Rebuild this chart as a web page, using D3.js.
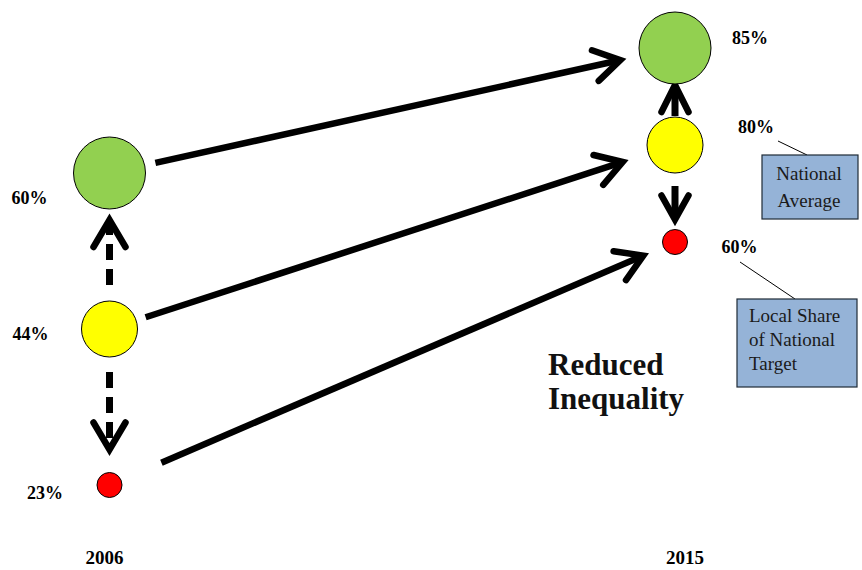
<!DOCTYPE html>
<html>
<head>
<meta charset="utf-8">
<script src="https://cdn.jsdelivr.net/npm/d3@7"></script>
<style>
  html, body { margin: 0; padding: 0; background: #fff; }
  svg { display: block; }
  text { font-family: "Liberation Serif", "DejaVu Serif", serif; }
</style>
</head>
<body>
<svg id="chart" width="862" height="570"></svg>
<script>
// ---- data ----
const years = ["2006", "2015"];
const groups = ["Highest", "Average", "Lowest"];
const values2006 = [60, 44, 23];
const values2015 = [85, 80, 60];
const valueLabels2006 = ["60%", "44%", "23%"];
const valueLabels2015 = ["85%", "80%", "60%"];
const callouts = [
  { lines: ["National", "Average"], target: 1 },
  { lines: ["Local Share", "of National", "Target"], target: 2 }
];
const headline = ["Reduced", "Inequality"];

// ---- layout / style ----
const svg = d3.select("#chart");
const x = d3.scalePoint().domain(years).range([109.5, 675]);
const yCol = {
  "2006": d3.scalePoint().domain(groups).range([173, 485]),
  "2015": d3.scalePoint().domain(groups).range([48, 242])
};
const radius = d3.scaleOrdinal().domain(groups).range([36, 28, 12.5]);
const fill = d3.scaleOrdinal().domain(groups).range(["#92d050", "#ffff00", "#ff0000"]);

const cols = [
  { year: "2006", values: values2006, labels: valueLabels2006, side: -1, dx: [4, -3, -4], dy: [25, 5, 8] },
  { year: "2015", values: values2015, labels: valueLabels2015, side: 1, dx: [-9, 5, 4], dy: [-10, -18, 5] }
];

function pos(year, g) { return [x(year), yCol[year](g)]; }

function chevron(tip, dir, len, ang) {
  const a = Math.atan2(dir[1], dir[0]);
  const p1 = [tip[0] - len * Math.cos(a - ang), tip[1] - len * Math.sin(a - ang)];
  const p2 = [tip[0] - len * Math.cos(a + ang), tip[1] - len * Math.sin(a + ang)];
  return d3.line()([p1, tip, p2]);
}

// ---- main arrows (2006 -> 2015) ----
const mainGaps = [[11, 20], [10, 27], [44, 22]];
const gArrows = svg.append("g");
groups.forEach((g, i) => {
  const a = pos("2006", g), b = pos("2015", g);
  const dx = b[0] - a[0], dy = b[1] - a[1];
  const L = Math.hypot(dx, dy), u = [dx / L, dy / L];
  const s = [a[0] + u[0] * (radius(g) + mainGaps[i][0]), a[1] + u[1] * (radius(g) + mainGaps[i][0])];
  const t = [b[0] - u[0] * (radius(g) + mainGaps[i][1]), b[1] - u[1] * (radius(g) + mainGaps[i][1])];
  const stemEnd = [t[0] - u[0] * 3, t[1] - u[1] * 3];
  gArrows.append("path").attr("d", d3.line()([s, stemEnd]))
    .attr("stroke", "#000").attr("stroke-width", 6.5).attr("fill", "none");
  gArrows.append("path").attr("d", chevron(t, u, 30, 0.55))
    .attr("stroke", "#000").attr("stroke-width", 6.5).attr("fill", "none")
    .attr("stroke-linecap", "round").attr("stroke-linejoin", "miter");
});

// ---- vertical arrows from the average ----
const vArrows = [
  { year: "2006", to: "Highest", gaps: [16, 11], dashed: true, half: 16, depth: 27 },
  { year: "2006", to: "Lowest", gaps: [15, 23], dashed: true, half: 16, depth: 27 },
  { year: "2015", to: "Highest", gaps: [1, 1], dashed: false, half: 13.5, depth: 27 },
  { year: "2015", to: "Lowest", gaps: [13, 10], dashed: false, half: 13.5, depth: 24 }
];
vArrows.forEach(v => {
  const a = pos(v.year, "Average"), b = pos(v.year, v.to);
  const dir = Math.sign(b[1] - a[1]);
  const y0 = a[1] + dir * (radius("Average") + v.gaps[0]);
  const y1 = b[1] - dir * (radius(v.to) + v.gaps[1]);
  const cx = a[0];
  gArrows.append("line")
    .attr("x1", cx).attr("x2", cx).attr("y1", y0).attr("y2", y1 - dir * 4)
    .attr("stroke", "#000").attr("stroke-width", 7)
    .attr("stroke-dasharray", v.dashed ? "16,9" : null);
  const ang = Math.atan2(v.half, v.depth);
  const len = Math.hypot(v.half, v.depth);
  gArrows.append("path").attr("d", chevron([cx, y1], [0, dir], len, ang))
    .attr("stroke", "#000").attr("stroke-width", 6.5).attr("fill", "none")
    .attr("stroke-linecap", "round");
});

// ---- circles ----
const gCircles = svg.append("g");
cols.forEach(c => {
  groups.forEach((g, i) => {
    const p = pos(c.year, g);
    gCircles.append("circle")
      .attr("cx", p[0]).attr("cy", p[1]).attr("r", radius(g))
      .attr("fill", fill(g)).attr("stroke", "#000").attr("stroke-width", 1);
    const lx = p[0] + c.side * (radius(g) + 30) + c.dx[i];
    gCircles.append("text")
      .attr("x", lx).attr("y", p[1] + c.dy[i] + 6)
      .attr("text-anchor", c.side < 0 ? "end" : "start")
      .attr("font-size", 18).attr("font-weight", "bold").attr("fill", "#000")
      .text(c.labels[i]);
  });
});

// ---- year labels ----
svg.append("g").selectAll("text").data(years).join("text")
  .attr("x", (d, i) => x(d) + (i === 0 ? -5 : 10)).attr("y", 564)
  .attr("text-anchor", "middle").attr("font-size", 19).attr("font-weight", "bold")
  .text(d => d);

// ---- headline ----
svg.append("g").selectAll("text").data(headline).join("text")
  .attr("x", 548).attr("y", (d, i) => 375 + i * 34)
  .attr("font-size", 31).attr("font-weight", "bold").attr("fill", "#111")
  .text(d => d);

// ---- callout boxes ----
const boxes = [
  { x: 762, y: 155, w: 96, h: 64, anchor: "middle", tx: 809, ty: [180, 207], line: [[778, 141], [807, 155]] },
  { x: 737, y: 299, w: 120, h: 88, anchor: "start", tx: 749, ty: [322, 346, 370], line: [[740, 262], [795, 299]] }
];
callouts.forEach((c, i) => {
  const b = boxes[i];
  const g = svg.append("g");
  g.append("path").attr("d", d3.line()(b.line)).attr("stroke", "#000").attr("stroke-width", 1);
  g.append("rect").attr("x", b.x).attr("y", b.y).attr("width", b.w).attr("height", b.h)
    .attr("fill", "#95b3d7").attr("stroke", "#1f2a36").attr("stroke-width", 1.2);
  g.selectAll("text").data(c.lines).join("text")
    .attr("x", b.tx).attr("y", (d, j) => b.ty[j])
    .attr("text-anchor", b.anchor).attr("font-size", 19).attr("fill", "#1a1a1a")
    .text(d => d);
});
</script>
</body>
</html>
